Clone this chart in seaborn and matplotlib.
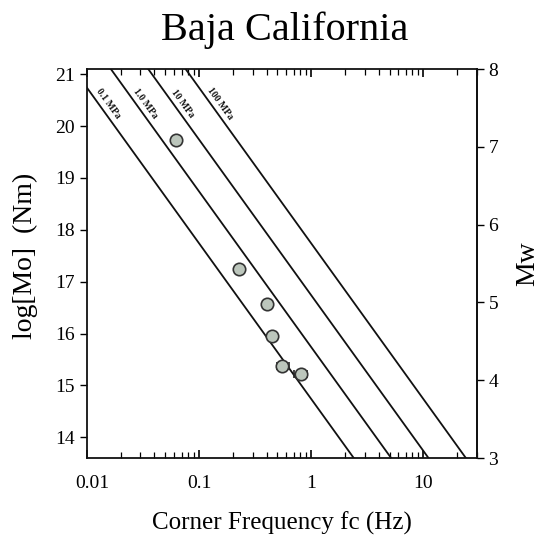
import numpy as np
import pandas as pd
import matplotlib
matplotlib.use("Agg")
import matplotlib.pyplot as plt
import matplotlib.transforms as mtransforms
import seaborn as sns
from matplotlib.ticker import LogLocator, FixedLocator, NullFormatter, FuncFormatter

# Source parameters of the events (corner frequency in Hz, log10 seismic moment in N·m)
fc = [0.0624, 0.228, 0.405, 0.449, 0.551, 0.814]
log_mo = [19.74, 17.25, 16.57, 15.95, 15.37, 15.22]
fc_err_low = [0.0, 0.0, 0.0, 0.04, 0.05, 0.11]
fc_err_high = [0.0, 0.0, 0.0, 0.05, 0.085, 0.11]

# Constant stress-drop reference lines (Brune model)
stress_drops_mpa = [0.1, 1.0, 10.0, 100.0]
stress_labels = ["0.1 MPa", "1.0 MPa", "10 MPa", "100 MPa"]
beta_m_s = 3600.0

x_ticks = [0.01, 0.1, 1, 10]
x_tick_labels = ["0.01", "0.1", "1", "10"]
y_ticks = [14, 15, 16, 17, 18, 19, 20, 21]
mw_ticks = [3, 4, 5, 6, 7, 8]


def brune_log_mo(f, dsigma_mpa):
    r = 2.34 * beta_m_s / (2 * np.pi * np.asarray(f))
    return np.log10(16.0 / 7.0 * dsigma_mpa * 1e6 * r ** 3)


sns.set_theme(style="ticks")
plt.rcParams["font.family"] = ["Liberation Serif", "DejaVu Serif"]
plt.rcParams["text.color"] = "black"
plt.rcParams["axes.labelcolor"] = "black"
plt.rcParams["xtick.color"] = "black"
plt.rcParams["ytick.color"] = "black"

fig = plt.figure(figsize=(5.43, 5.37), dpi=100)
ax = fig.add_axes([0.160, 0.147, 0.718, 0.7245])

f_grid = np.logspace(-2.2, 1.6, 200)
lines = pd.concat(
    [pd.DataFrame({"fc": f_grid, "logMo": brune_log_mo(f_grid, d), "dsigma": lab})
     for d, lab in zip(stress_drops_mpa, stress_labels)],
    ignore_index=True,
)
for lab in stress_labels:
    sub = lines[lines["dsigma"] == lab]
    sns.lineplot(data=sub, x="fc", y="logMo", color="#111111", lw=1.3, ax=ax,
                 legend=False, sort=True, estimator=None)

# Line annotations, written along each line near the top
label_y = 20.44
for d, lab in zip(stress_drops_mpa, stress_labels):
    f_at = 10 ** ((brune_log_mo(1.0, d) - label_y) / 3.0)
    ax.annotate(lab, xy=(f_at, label_y), xytext=(10, 0), textcoords="offset pixels",
                rotation=-54, ha="center", va="center", fontsize=7,
                fontweight="bold", color="#111111")

ax.errorbar(fc, log_mo, xerr=[fc_err_low, fc_err_high], fmt="none",
            ecolor="#222222", elinewidth=1.2, capsize=3, capthick=1.2, zorder=3)
sns.scatterplot(x=fc, y=log_mo, ax=ax, s=80, color="#bcc6bc",
                edgecolor="#333333", linewidth=1.2, zorder=4, legend=False)

ax.set_xscale("log")
ax.set_xlim(0.01, 30)
ax.set_ylim(13.6, 21.1)

ax.xaxis.set_major_locator(FixedLocator(x_ticks))
ax.xaxis.set_major_formatter(FuncFormatter(lambda v, p: x_tick_labels[x_ticks.index(v)] if v in x_ticks else ""))
ax.xaxis.set_minor_locator(LogLocator(base=10, subs=np.arange(2, 10)))
ax.xaxis.set_minor_formatter(NullFormatter())
ax.set_yticks(y_ticks)

ax.tick_params(axis="x", which="major", direction="in", top=True, bottom=True,
               length=6, width=1.2, labelsize=14, pad=12)
ax.tick_params(axis="x", which="minor", direction="in", top=True, bottom=True,
               length=4, width=0.9)
ax.tick_params(axis="y", which="major", direction="out", left=True, right=False,
               length=5, width=1.0, labelsize=14)

for sp in ax.spines.values():
    sp.set_visible(True)
    sp.set_color("#111111")
    sp.set_linewidth(1.3)

sec = ax.secondary_yaxis("right", functions=(lambda m: (m - 9.1) * 2.0 / 3.0,
                                             lambda w: 1.5 * np.asarray(w) + 9.1))
sec.set_yticks(mw_ticks)
sec.tick_params(direction="out", length=5, width=1.0, labelsize=14)
sec.spines["right"].set_color("#111111")
sec.spines["right"].set_linewidth(1.3)
sec.set_ylabel("Mw", fontsize=20, labelpad=12)

ax.set_xlabel("Corner Frequency fc (Hz)", fontsize=18, labelpad=14)
ax.set_ylabel("log[Mo]  (Nm)", fontsize=20)
ax.yaxis.set_label_coords(-0.125, 0.52)
fig.text(0.525, 0.943, "Baja California", ha="center", va="center", fontsize=29)

# shift the leftmost x label a little to the right, clear of the corner
fig.canvas.draw()
first_tick = ax.xaxis.get_major_ticks()[0]
first_tick.label1.set_transform(first_tick.label1.get_transform()
                                + mtransforms.ScaledTranslation(5 / 100, 0, fig.dpi_scale_trans))

fig.savefig("out.png", dpi=100)
